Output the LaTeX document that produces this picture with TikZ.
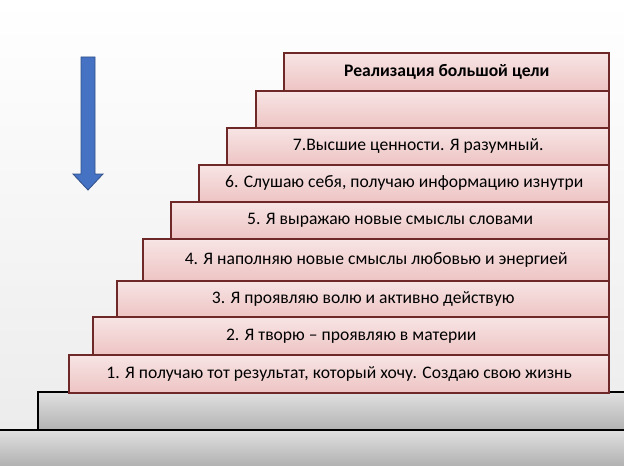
\documentclass[tikz,border=0pt]{standalone}
\usepackage{fontspec}
\setmainfont{Carlito}
\usetikzlibrary{positioning}
\definecolor{stepborder}{RGB}{110,40,40}
\definecolor{stepfill}{RGB}{238,196,196}
\definecolor{arrowblue}{RGB}{70,114,196}
\tikzset{
    % One stair of the ladder
    step box/.style={
        draw=stepborder, thick, rectangle, anchor=north east,
        top color=stepfill!45, bottom color=stepfill,
        minimum height=#1, inner sep=0, font=\fontsize{8.8}{10}\selectfont},
    % Grey base blocks
    base fill/.style={draw=black, thick, top color=black!12, bottom color=black!30},
    % The big downward arrow
    down arrow/.style={draw=arrowblue!70!black, fill=arrowblue}}

\begin{document}
\begin{tikzpicture}[x=0.5pt, y=-0.5pt]

\useasboundingbox [top color=white, bottom color=black!8] (0,0) rectangle (624,465);

% Floor and base
\path [base fill, draw=none] (0,430) rectangle (624,465);
\draw [thick] (0,430) -- (624,430);
\draw [base fill] (624,430) -- (38,430) -- (38,392) -- (624,392);

% Stairs
\foreach \name/\lx/\ty/\by/\txt in {
    s1/70/354/392/{1. Я получаю тот результат, который хочу. Создаю свою жизнь},
    s2/94/316/354/{2. Я творю – проявляю в материи},
    s3/118/280/316/{3. Я проявляю волю и активно действую},
    s4/144/238/280/{4. Я наполняю новые смыслы любовью и энергией},
    s5/172/201/238/{5. Я выражаю новые смыслы словами},
    s6/200/164/201/{6. Слушаю себя, получаю информацию изнутри},
    s7/228/127/164/{7.Высшие ценности. Я разумный.},
    s8/257/90/127/{},
    s9/285/52/90/{\bfseries Реализация большой цели}}
{
    \node [step box=(\by-\ty)*0.5pt, minimum width=(610-\lx)*0.5pt]
        (\name) at (610,\ty) {\txt};
}

% Arrow
\path [down arrow] (81,57) -- (95,57) -- (95,174) -- (103,174) -- (88,190)
    -- (73,174) -- (81,174) -- cycle;

\end{tikzpicture}
\end{document}
